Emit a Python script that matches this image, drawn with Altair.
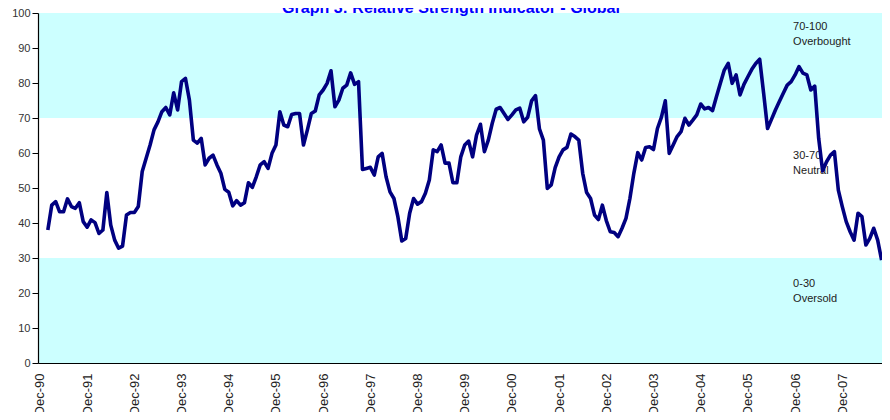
import altair as alt
import pandas as pd

# ---- data -------------------------------------------------------------
title_text = "Graph 3: Relative Strength Indicator - Global"

# month offset of first observation relative to Dec-90 (Feb-91)
start_month = 2
rsi = [
    38.0, 45.1, 46.1, 43.2, 43.2, 46.9, 44.7, 44.2, 45.8, 40.4,   # m 2-11
    38.8, 40.9, 40.1, 37.0, 38.0, 48.7, 39.4, 35.1, 32.8, 33.4,   # m 12-21
    42.3, 43.0, 43.0, 44.7, 54.7, 58.5, 62.3, 66.6, 68.9, 71.8,   # m 22-31
    73.0, 70.9, 77.2, 72.3, 80.4, 81.3, 75.1, 63.7, 62.8, 64.2,   # m 32-41
    56.6, 58.5, 59.4, 56.6, 54.2, 49.6, 48.8, 44.9, 46.4, 45.1,   # m 42-51
    45.8, 51.5, 50.2, 53.2, 56.6, 57.5, 55.6, 59.9, 62.3, 71.8,   # m 52-61
    68.0, 67.5, 71.0, 71.3, 71.3, 62.3, 66.6, 71.3, 72.0, 76.6,   # m 62-71
    78.0, 79.9, 83.5, 73.2, 75.1, 78.5, 79.4, 82.9, 79.6, 80.4,   # m 72-81
    55.3, 55.6, 55.9, 53.7, 58.9, 59.9, 53.2, 48.9, 47.0, 41.8,   # m 82-91
    34.9, 35.6, 42.8, 47.0, 45.4, 46.1, 48.5, 52.3, 60.9, 60.4,   # m 92-101
    62.3, 57.1, 57.1, 51.5, 51.5, 58.9, 62.3, 63.4, 58.9, 65.1,   # m 102-111
    68.2, 60.4, 63.7, 68.5, 72.5, 73.0, 71.3, 69.6, 70.9, 72.3,   # m 112-121
    72.8, 68.9, 70.2, 74.9, 76.4, 66.9, 63.7, 49.9, 50.9, 55.8,   # m 122-131
    58.9, 60.9, 61.6, 65.4, 64.7, 63.7, 54.2, 48.7, 47.0, 42.3,   # m 132-141
    41.0, 45.1, 40.7, 37.5, 37.3, 36.1, 38.5, 41.3, 47.0, 54.2,   # m 142-151
    60.1, 58.0, 61.6, 61.8, 61.0, 67.0, 70.2, 74.9, 59.9, 62.3,   # m 152-161
    64.7, 66.1, 69.9, 68.0, 69.4, 70.9, 74.0, 72.6, 73.0, 72.1,   # m 162-171
    76.1, 79.9, 83.7, 85.6, 79.9, 82.3, 76.6, 79.6, 81.8, 83.9,   # m 172-181
    85.6, 86.8, 77.1, 67.0, 69.6, 72.3, 74.7, 77.1, 79.4, 80.4,   # m 182-191
    82.3, 84.7, 82.8, 82.3, 78.0, 79.1, 64.2, 54.9, 57.5, 59.4,   # m 192-201
    60.4, 49.4, 44.7, 40.4, 37.5, 35.1, 42.8, 41.8, 33.7, 35.6,   # m 202-211
    38.5, 35.1, 29.4,                                             # m 212-214
]
months = list(range(start_month, start_month + len(rsi)))

year_labels = ["Dec-90", "Dec-91", "Dec-92", "Dec-93", "Dec-94", "Dec-95",
               "Dec-96", "Dec-97", "Dec-98", "Dec-99", "Dec-00", "Dec-01",
               "Dec-02", "Dec-03", "Dec-04", "Dec-05", "Dec-06", "Dec-07"]
label_months = [12 * i for i in range(len(year_labels))]
y_ticks = [0, 10, 20, 30, 40, 50, 60, 70, 80, 90, 100]

band_low = [0, 70]
band_high = [30, 100]

zone_labels = ["70-100\nOverbought", "30-70\nNeutral", "0-30\nOversold"]
zone_top = [97.7, 60.9, 24.3]
zone_month = [191.5, 191.5, 191.5]

# ---- chart ---------------------------------------------------------------
W, H = 844, 350
x_domain = [-0.5, 214.1]

df = pd.DataFrame({"m": months, "rsi": rsi})
bands = pd.DataFrame({"lo": band_low, "hi": band_high})
zones = pd.DataFrame({"m": zone_month, "v": zone_top, "t": zone_labels})

label_expr = "[" + ",".join(f"'{l}'" for l in year_labels) + "][round(datum.value/12)]"

x_scale = alt.Scale(domain=x_domain, nice=False, zero=False)
x_axis = alt.Axis(
    values=label_months, labelExpr=label_expr, title=None,
    labelAngle=-90, labelAlign="right", labelBaseline="middle",
    labelFontSize=13, labelPadding=10, ticks=False, grid=False,
    domainColor="#000000", domainWidth=1.2, labelColor="#222222",
    zindex=1, labelOverlap=False,
)
y_scale = alt.Scale(domain=[0, 100], nice=False)
y_axis = alt.Axis(
    values=y_ticks, title=None, grid=False, labelOverlap=False,
    tickSize=6, tickColor="#000000", domainColor="#000000", domainWidth=1.2,
    labelFontSize=11, labelColor="#333333", labelPadding=2, zindex=1,
)

band_layer = alt.Chart(bands).mark_rect(color="#CCFFFF").encode(
    x=alt.value(0), x2=alt.value(W),
    y=alt.Y("lo:Q", scale=y_scale, axis=y_axis), y2="hi:Q",
)

text_layer = alt.Chart(zones).mark_text(
    align="left", baseline="top", fontSize=11, color="#222222",
    lineBreak="\n", lineHeight=15,
).encode(
    x=alt.X("m:Q", scale=x_scale, axis=x_axis),
    y=alt.Y("v:Q", scale=y_scale, axis=y_axis),
    text="t:N",
)

line_layer = alt.Chart(df).mark_line(
    color="#000080", strokeWidth=3.6, clip=True, strokeJoin="round",
).encode(
    x=alt.X("m:Q", scale=x_scale, axis=x_axis),
    y=alt.Y("rsi:Q", scale=y_scale, axis=y_axis),
)

chart = alt.layer(band_layer, text_layer, line_layer).properties(
    width=W, height=H,
    title=alt.TitleParams(
        title_text, color="#0000FF", fontSize=16, fontWeight="bold",
        font="Liberation Sans", anchor="middle", offset=-9, dx=-9,
    ),
    autosize=alt.AutoSizeParams(type="none"),
    padding={"left": 30, "top": 5, "right": 0, "bottom": 49},
).configure_view(stroke=None).configure(
    font="Liberation Sans"
).configure_axis(labelFont="Liberation Sans")

chart.save("out.html", embed_options={"renderer": "svg", "actions": False})
